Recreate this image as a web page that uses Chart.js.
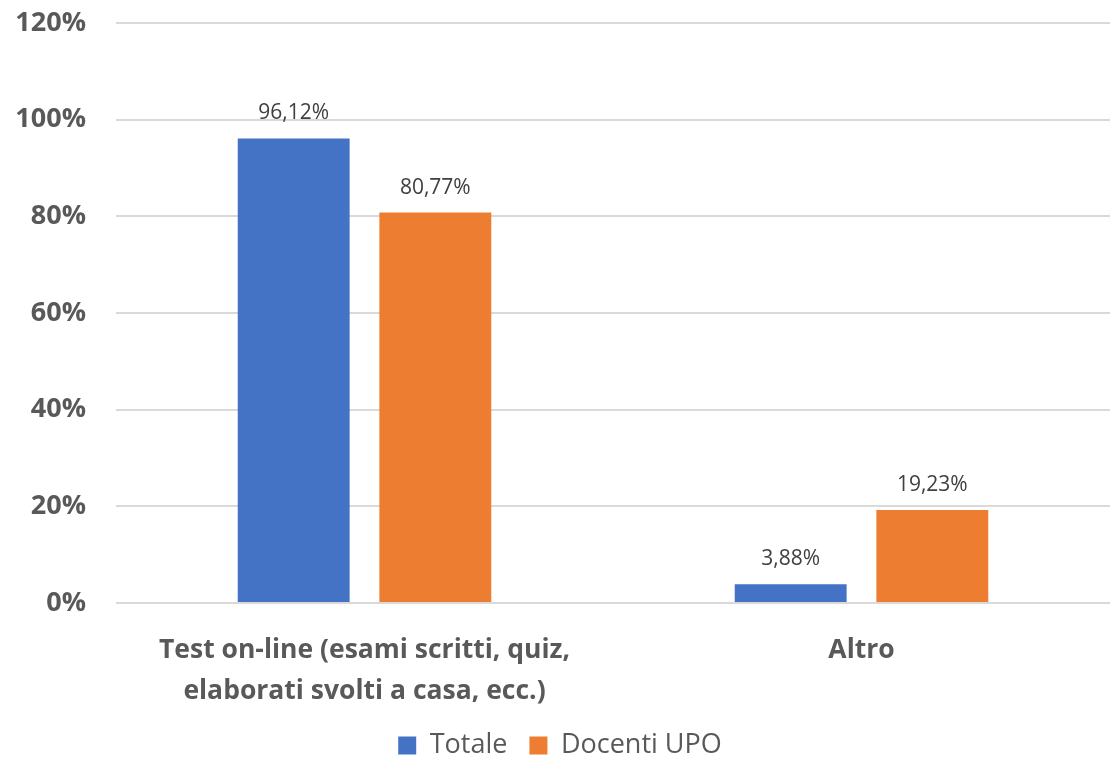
<!DOCTYPE html>
<html>
<head>
<meta charset="utf-8">
<script src="https://cdn.jsdelivr.net/npm/chart.js@4"></script>
<style>
  body { margin: 0; background: #fff; }
  #wrap { width: 1110px; height: 759px; position: relative; }
</style>
</head>
<body>
<div id="wrap"><canvas id="chart"></canvas></div>
<script>
var categories = [
    ['Test on-line (esami scritti, quiz,', 'elaborati svolti a casa, ecc.)'],
    'Altro'
];
var totale = [96.12, 3.88];
var docentiUpo = [80.77, 19.23];
var yTicks = [0, 20, 40, 60, 80, 100, 120];

// etichette sopra le barre, con la virgola come separatore
var valueLabels = {
    id: 'valueLabels',
    afterDatasetsDraw: function(chart) {
        var ctx = chart.ctx;
        ctx.save();
        ctx.font = '21px "Open Sans", sans-serif';
        ctx.fillStyle = '#404040';
        ctx.textAlign = 'center';
        ctx.textBaseline = 'middle';
        chart.data.datasets.forEach(function(ds, i) {
            chart.getDatasetMeta(i).data.forEach(function(bar, j) {
                var txt = ds.data[j].toFixed(2).replace('.', ',') + '%';
                ctx.fillText(txt, bar.x, bar.y - 25);
            });
        });
        ctx.restore();
    }
};

var ctx = document.getElementById('chart').getContext('2d');
var chart = new Chart(ctx, {
    type: 'bar',
    data: {
        labels: categories,
        datasets: [{
                label: 'Totale',
                backgroundColor: '#4472C4',
                data: totale,
                barPercentage: 0.79,
                categoryPercentage: 0.57
            },
            {
                label: 'Docenti UPO',
                backgroundColor: '#ED7D31',
                data: docentiUpo,
                barPercentage: 0.79,
                categoryPercentage: 0.57
            }
        ]
    },
    options: {
        responsive: true,
        maintainAspectRatio: false,
        animation: false,
        layout: { padding: { top: 0, right: -10, bottom: -10, left: 0 } },
        scales: {
            x: {
                grid: { display: false },
                border: { display: false },
                afterFit: function(axis) {
                    axis.height = 107;
                    axis.paddingLeft = 0;
                    axis.paddingRight = 0;
                },
                ticks: {
                    color: '#595959',
                    font: { family: 'Open Sans', size: 26.5, weight: 'bold', lineHeight: 1.55 },
                    padding: 19
                }
            },
            y: {
                min: 0,
                max: 120,
                afterBuildTicks: function(axis) {
                    axis.ticks = yTicks.map(function(v) { return { value: v }; });
                },
                afterFit: function(axis) {
                    axis.width = 116;
                    axis.paddingTop = 23;
                    axis.paddingBottom = 0;
                },
                grid: { color: '#d9d9d9', lineWidth: 2, drawTicks: false },
                border: { display: false },
                ticks: {
                    color: '#595959',
                    font: { family: 'Open Sans', size: 27, weight: 'bold' },
                    padding: 30,
                    callback: function(v) { return v + '%'; }
                }
            }
        },
        plugins: {
            legend: {
                position: 'bottom',
                labels: {
                    color: '#595959',
                    font: { family: 'Open Sans', size: 27 },
                    boxWidth: 18,
                    boxHeight: 18,
                    padding: 22
                }
            },
            tooltip: { enabled: false }
        }
    },
    plugins: [valueLabels]
});
</script>
</body>
</html>
